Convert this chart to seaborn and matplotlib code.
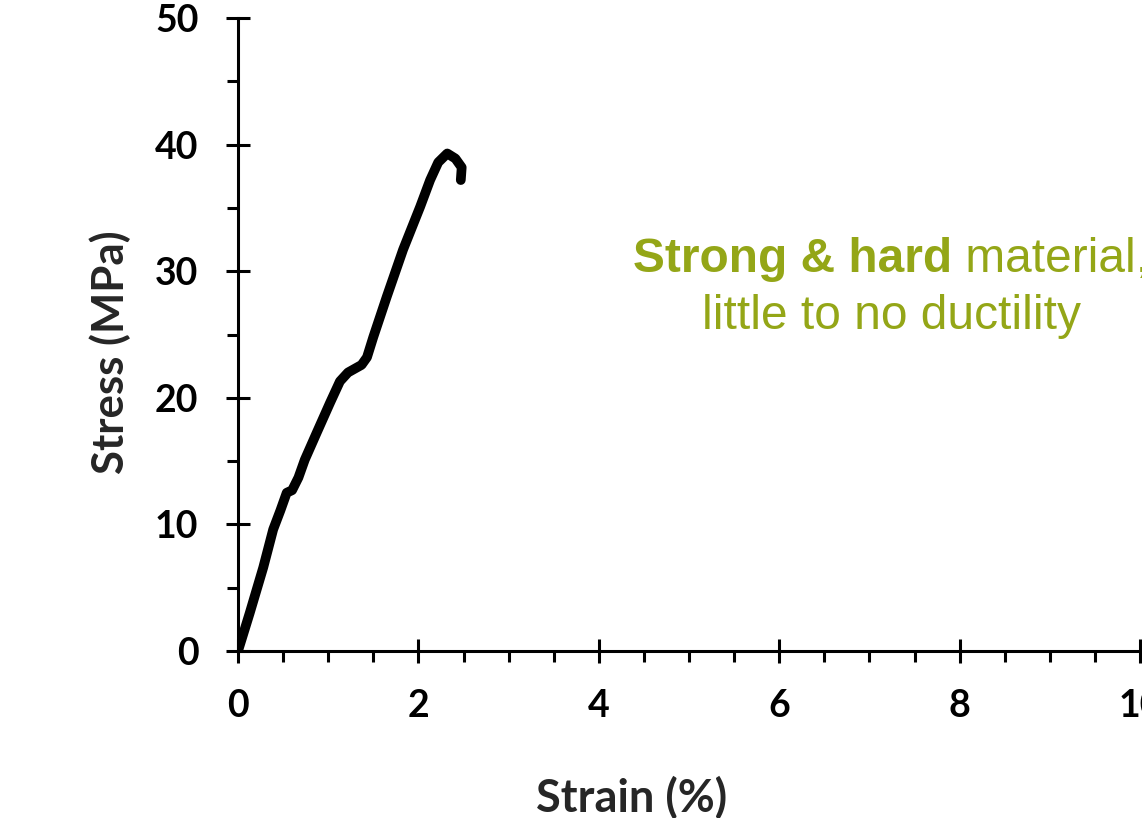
import matplotlib
matplotlib.use("Agg")
import matplotlib.pyplot as plt
import seaborn as sns
import pandas as pd
from matplotlib.ticker import MultipleLocator

# Data
strain = [0.00, 0.13, 0.28, 0.39, 0.47, 0.54, 0.60, 0.67, 0.74, 0.87, 1.02, 1.13,
          1.22, 1.37, 1.43, 1.50, 1.65, 1.83, 2.02, 2.13, 2.22, 2.32, 2.41,
          2.48, 2.47]
stress = [0.0, 3.0, 6.6, 9.6, 11.1, 12.5, 12.7, 13.7, 15.1, 17.2, 19.6, 21.3,
          22.0, 22.6, 23.2, 24.8, 28.0, 31.7, 35.1, 37.2, 38.6, 39.3, 38.9,
          38.2, 37.2]

x_ticks = [0, 2, 4, 6, 8, 10]
y_ticks = [0, 10, 20, 30, 40, 50]
x_label = "Strain (%)"
y_label = "Stress (MPa)"
note_bold = "Strong & hard"
note_rest = " material,"
note_line2 = "little to no ductility"

df = pd.DataFrame({"strain": strain, "stress": stress})

sns.set_style("white")
fig = plt.figure(figsize=(11.42, 8.18), dpi=100)
ax = fig.add_axes([238 / 1142, 1 - 651 / 818, (1140 - 238) / 1142, (651 - 18) / 818])

sns.lineplot(data=df, x="strain", y="stress", sort=False, ax=ax,
             color="black", linewidth=7.0, solid_capstyle="round",
             solid_joinstyle="round")

ax.set_xlim(0, 10)
ax.set_ylim(0, 50)
ax.set_xticks(x_ticks)
ax.set_yticks(y_ticks)
ax.xaxis.set_minor_locator(MultipleLocator(0.5))
ax.yaxis.set_minor_locator(MultipleLocator(5))

for side in ["top", "right"]:
    ax.spines[side].set_visible(False)
for side in ["left", "bottom"]:
    ax.spines[side].set_linewidth(2.2)
    ax.spines[side].set_color("black")

tick_font = "Lato"
ax.tick_params(which="both", bottom=True, left=True, top=False, right=False)
ax.tick_params(which="major", direction="inout", length=17, width=2.2,
               colors="black", labelsize=27)
ax.tick_params(which="minor", direction="out", length=8, width=2.2, colors="black")
ax.tick_params(axis="y", which="major", pad=20)
ax.tick_params(axis="x", which="major", pad=19)
for lbl in ax.get_xticklabels() + ax.get_yticklabels():
    lbl.set_fontfamily(tick_font)
    lbl.set_fontweight("bold")

ax.set_xlabel("")
ax.set_ylabel("")
fig.text(632 / 1142, 1 - 798 / 818, x_label, ha="center", va="center",
         fontsize=32.5, fontweight="bold", fontfamily=tick_font)
fig.text(110 / 1142, 1 - 352 / 818, y_label, ha="center", va="center",
         rotation=90, fontsize=31.5, fontweight="bold", fontfamily=tick_font)

green = "#94A617"
t1 = fig.text(633 / 1142, 1 - 272 / 818, note_bold, ha="left", va="baseline",
              fontsize=34.5, fontweight="bold", color=green,
              fontfamily="Liberation Sans")
fig.canvas.draw()
ax.annotate(note_rest, xy=(1, 0), xycoords=t1, ha="left", va="bottom",
            fontsize=34.5, color=green, fontfamily="Liberation Sans",
            annotation_clip=False)
fig.text(891.5 / 1142, 1 - 329 / 818, note_line2, ha="center", va="baseline",
         fontsize=34.5, color=green, fontfamily="Liberation Sans")

fig.savefig("out.png", dpi=100)
